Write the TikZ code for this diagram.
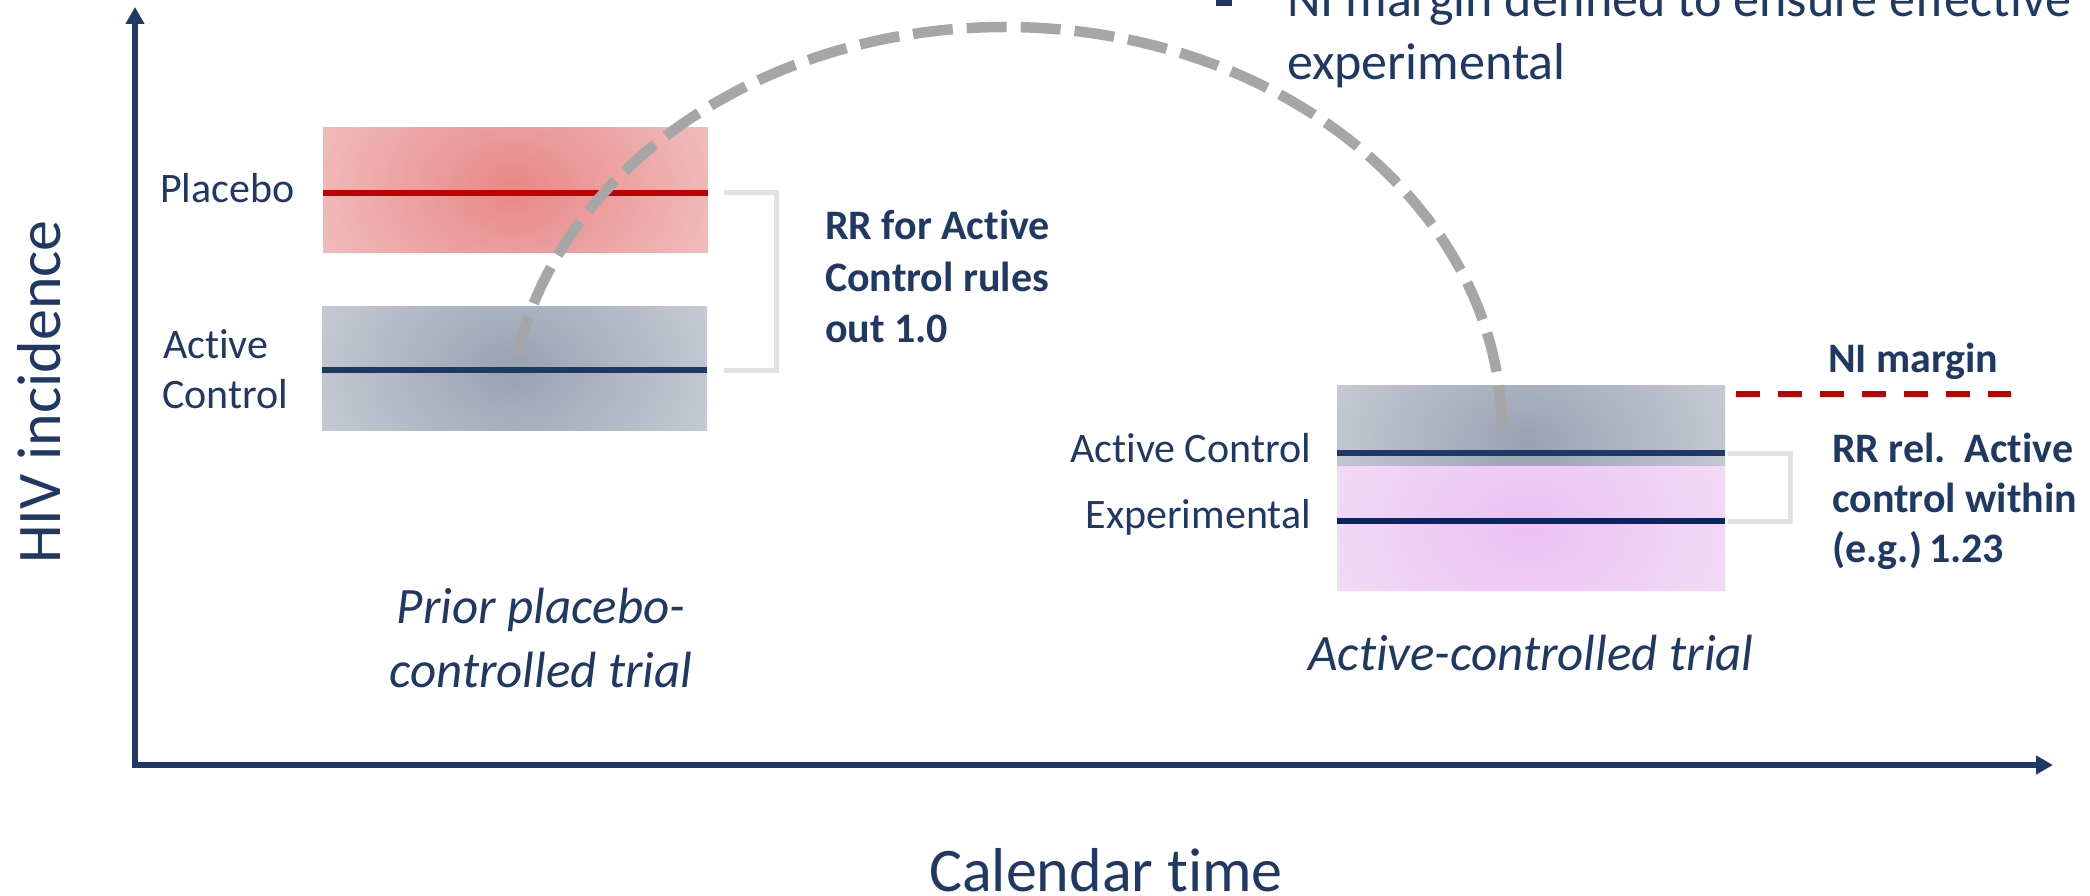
\documentclass[tikz,border=0pt]{standalone}
\usepackage{fontspec}
\setmainfont{Carlito}[Ligatures={NoCommon}]
\usetikzlibrary{arrows.meta}

\definecolor{navy}{HTML}{1F3864}
\definecolor{deepnavy}{HTML}{0B2560}
\definecolor{darkred}{HTML}{C00000}
\definecolor{arcgray}{HTML}{A6A6A6}
\definecolor{bracketgray}{HTML}{E2E2E2}
\definecolor{redin}{HTML}{E88787}
\definecolor{redout}{HTML}{F7DEDE}
\definecolor{grayin}{HTML}{99A1B2}
\definecolor{grayout}{HTML}{E2E4E8}
\definecolor{violetin}{HTML}{EBC1F2}
\definecolor{violetout}{HTML}{F7EAFA}

\tikzset{
  txt/.style={text=navy, inner sep=0pt, outer sep=0pt},
  lbl/.style={txt, font=\fontsize{42}{50}\selectfont},
  boldlbl/.style={txt, font=\fontsize{42}{50}\selectfont\bfseries},
  caption/.style={txt, font=\fontsize{51}{61}\selectfont\itshape},
  axistitle/.style={txt, font=\fontsize{62}{74}\selectfont},
  bullettxt/.style={txt, font=\fontsize{52}{62}\selectfont},
  axis/.style={navy, line width=6.5pt, -{Triangle[length=17pt,width=18pt]}},
  levelline/.style={line width=6pt},
  bracket/.style={bracketgray, line width=5pt},
  arcdash/.style={arcgray, line width=10.5pt, dash pattern=on 40pt off 14pt},
  margindash/.style={darkred, line width=6pt, dash pattern=on 24pt off 18pt},
  glow/.style={x radius=345pt, y radius=260pt},
}

\begin{document}
\begin{tikzpicture}[x=1pt, y=-1pt]
\useasboundingbox (0,0) rectangle (2090,896);
\clip (0,0) rectangle (2090,896);

% ---- glowing bands of the prior placebo-controlled trial ----
\begin{scope}
  \clip (323,128) rectangle (708,252);
  \fill[redout] (323,128) rectangle (708,252);
  \shade[inner color=redin, outer color=redout] (513,188) ellipse [glow];
\end{scope}
\begin{scope}
  \clip (322,306) rectangle (707,430);
  \fill[grayout] (322,306) rectangle (707,430);
  \shade[inner color=grayin, outer color=grayout] (513,368) ellipse [glow];
\end{scope}

% ---- bands of the active-controlled trial ----
\begin{scope}
  \clip (1337,385) rectangle (1725,466);
  \fill[grayout] (1337,385) rectangle (1725,466);
  \shade[inner color=grayin, outer color=grayout] (1527,445) ellipse [glow];
\end{scope}
\begin{scope}
  \clip (1337,466) rectangle (1725,590);
  \fill[violetout] (1337,466) rectangle (1725,590);
  \shade[inner color=violetin, outer color=violetout] (1527,525) ellipse [glow];
\end{scope}

% ---- incidence levels ----
\coordinate (plA) at (323,193);  \coordinate (plB) at (708,193);
\coordinate (acA) at (322,370);  \coordinate (acB) at (707,370);
\coordinate (ac2A) at (1337,453); \coordinate (ac2B) at (1725,453);
\coordinate (exA) at (1337,521);  \coordinate (exB) at (1725,521);
\draw[levelline, darkred] (plA) -- (plB);
\draw[levelline, navy] (acA) -- (acB);
\draw[levelline, navy] (ac2A) -- (ac2B);
\draw[levelline, deepnavy] (exA) -- (exB);

% ---- brackets comparing the levels ----
\coordinate (brA) at (724,193);  \coordinate (brB) at (776,370);  \coordinate (brC) at (724,370);
\draw[bracket] (brA) -| (brB) -- (brC);
\coordinate (brD) at (1728,453); \coordinate (brE) at (1790,521); \coordinate (brF) at (1728,521);
\draw[bracket] (brD) -| (brE) -- (brF);

% ---- NI margin ----
\coordinate (niA) at (1736,394); \coordinate (niB) at (2011,394);
\draw[margindash] (niA) -- (niB);
\node[boldlbl, anchor=base west] (nilabel) at (1828,372) {NI margin};

% ---- labels of the left trial ----
\node[lbl, anchor=base west] (placebo) at (160,203) {Placebo};
\node[lbl, anchor=base west] (active1) at (163,358) {Active};
\node[lbl, anchor=base west] (control1) at (162,408) {Control};
\node[boldlbl, anchor=base west] (rr1a) at (825,240) {RR for Active};
\node[boldlbl, anchor=base west] (rr1b) at (825,291) {Control rules};
\node[boldlbl, anchor=base west] (rr1c) at (825,342) {out 1.0};
\node[caption, anchor=base] (cap1a) at (541,623) {Prior placebo-};
\node[caption, anchor=base] (cap1b) at (541,687) {controlled trial};

% ---- labels of the right trial ----
\node[lbl, anchor=base east] (active2) at (1311,462) {Active Control};
\node[lbl, anchor=base east] (exper) at (1311,528) {Experimental};
\node[boldlbl, anchor=base west] (rr2a) at (1832,462) {RR rel.\ \ Active};
\node[boldlbl, anchor=base west] (rr2b) at (1832,512) {control within};
\node[boldlbl, anchor=base west] (rr2c) at (1832,562) {(e.g.)\,1.23};
\node[caption, anchor=base] (cap2) at (1531,670) {Active-controlled trial};

% ---- bullet text at the top ----
\fill[navy] (1216,-11) rectangle (1232,6);
\node[bullettxt, anchor=base west] (note1) at (1287,17) {NI margin defined to ensure effective};
\node[bullettxt, anchor=base west] (note2) at (1287,80) {experimental};

% ---- dashed arc carrying the active control across trials ----
\coordinate (arcA) at (517.1,354.7);
\coordinate (arcTop) at (1005,27);
\coordinate (arcB) at (1502,432);
\draw[arcdash] (arcA) .. controls (562.6,164.4) and (767,27) .. (arcTop)
               .. controls (1279.5,27) and (1502,208.3) .. (arcB);

% ---- axes ----
\coordinate (origin) at (135,765);
\coordinate (ytip) at (135,7);
\coordinate (xtip) at (2053,765);
\draw[axis] (135,768) -- (ytip);
\draw[axis] (origin) -- (xtip);
\node[axistitle, rotate=90, anchor=base] (ylabel) at (60,392) {HIV incidence};
\node[axistitle, anchor=base] (xlabel) at (1106,891) {Calendar time};
\end{tikzpicture}
\end{document}
